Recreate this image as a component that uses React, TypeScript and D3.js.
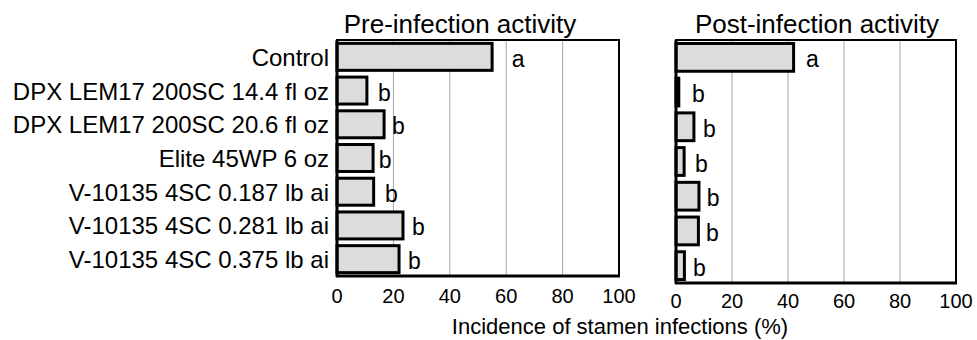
import React from "react";
import * as d3 from "d3";

const categories = [
  "Control",
  "DPX LEM17 200SC 14.4 fl oz",
  "DPX LEM17 200SC 20.6 fl oz",
  "Elite 45WP 6 oz",
  "V-10135 4SC 0.187 lb ai",
  "V-10135 4SC 0.281 lb ai",
  "V-10135 4SC 0.375 lb ai",
];
const preValues = [55, 10.6, 16.7, 12.8, 13, 23.4, 22];
const postValues = [42, 1, 6.4, 2.9, 8.2, 8, 3];
const preLetters = ["a", "b", "b", "b", "b", "b", "b"];
const postLetters = ["a", "b", "b", "b", "b", "b", "b"];
// letter positions (in % units)
const preLetterAt = [62, 14.5, 19.5, 14.8, 17, 26.6, 25.2];
const postLetterAt = [46.4, 5.7, 9.6, 6.8, 11, 10.7, 6.1];
const xTicks = [0, 20, 40, 60, 80, 100];
const titles = ["Pre-infection activity", "Post-infection activity"];
const xAxisTitle = "Incidence of stamen infections (%)";

const FONT = "'Liberation Sans', Arial, Helvetica, sans-serif";

function Txt({ x, y, size, anchor = "start", children }: any) {
  return (
    <text x={x} y={y} fontSize={size} textAnchor={anchor} fontFamily={FONT} fill="#000">
      {children}
    </text>
  );
}

function Panel({ x0, x1, y0, y1, values, letters, letterAt, showCats, title, titleX, tickDy }: any) {
  const x = d3.scaleLinear().domain([0, 100]).range([x0, x1]);
  const y = d3.scaleBand<string>().domain(categories).range([y0, y1]).paddingInner(0.2).paddingOuter(0.1);
  const band = d3.scaleBand<string>().domain(categories).range([y0, y1]);
  return (
    <g>
      <Txt x={titleX} y={33} size={26} anchor="middle">{title}</Txt>
      {xTicks.slice(1, -1).map((t) => (
        <line key={t} x1={x(t)} x2={x(t)} y1={y0} y2={y1} stroke="#a6a6a6" strokeWidth={1} />
      ))}
      {categories.map((c, i) => (
        <rect
          key={c}
          x={x(0)}
          y={y(c)!}
          width={Math.max(0, x(values[i]) - x(0))}
          height={y.bandwidth()}
          fill="#dcdcdc"
          stroke="#000"
          strokeWidth={3}
        />
      ))}
      {categories.map((c, i) => (
        <Txt key={"l" + c} x={x(letterAt[i])} y={band(c)! + band.bandwidth() / 2 + 10} size={23}>
          {letters[i]}
        </Txt>
      ))}
      {showCats &&
        categories.map((c) => (
          <Txt key={"c" + c} x={x0 - 8} y={band(c)! + band.bandwidth() / 2 + 9} size={24} anchor="end">
            {c}
          </Txt>
        ))}
      <rect x={x0} y={y0} width={x1 - x0} height={y1 - y0} fill="none" stroke="#000" strokeWidth={2} />
      <line x1={x0} x2={x0} y1={y0} y2={y1 + 1} stroke="#000" strokeWidth={3} />
      <line x1={x0 - 1} x2={x1 + 1} y1={y1} y2={y1} stroke="#000" strokeWidth={3} />
      {xTicks.map((t) => (
        <Txt key={"t" + t} x={x(t)} y={y1 + tickDy} size={20} anchor="middle">
          {t}
        </Txt>
      ))}
    </g>
  );
}

export default function App() {
  return (
    <svg width={977} height={340} style={{ position: "absolute", left: 0, top: 0 }}>
      <rect width={977} height={340} fill="#fff" />
      <Panel x0={337} x1={619} y0={40} y1={276} values={preValues} letters={preLetters} letterAt={preLetterAt}
        showCats title={titles[0]} titleX={460} tickDy={27} />
      <Panel x0={676} x1={956} y0={40} y1={283} values={postValues} letters={postLetters} letterAt={postLetterAt}
        showCats={false} title={titles[1]} titleX={817} tickDy={25} />
      <Txt x={620} y={334} size={22} anchor="middle">{xAxisTitle}</Txt>
    </svg>
  );
}
